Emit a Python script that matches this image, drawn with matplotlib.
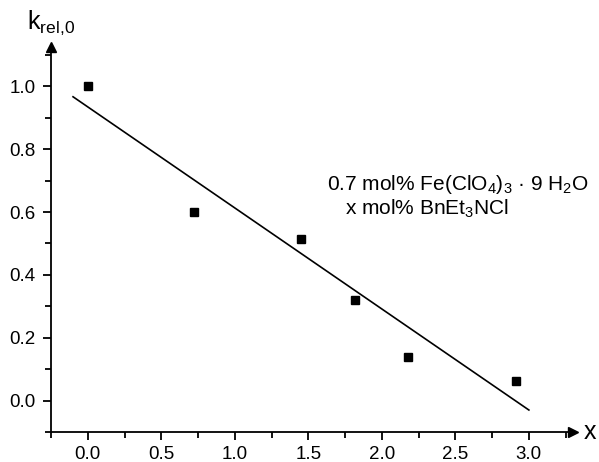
import matplotlib
matplotlib.use("Agg")
import matplotlib.pyplot as plt
from matplotlib.ticker import MultipleLocator

plt.rcParams['font.family'] = ['Liberation Sans', 'DejaVu Sans']
plt.rcParams['mathtext.fontset'] = 'custom'
plt.rcParams['mathtext.rm'] = 'Liberation Sans'
plt.rcParams['mathtext.it'] = 'Liberation Sans:italic'

# Measured points
x_mol = [0.0, 0.72, 1.45, 1.82, 2.18, 2.91]
k_rel = [1.0, 0.60, 0.515, 0.32, 0.14, 0.063]

# Linear fit line (end points)
fit_x = [-0.1, 3.0]
fit_y = [0.967, -0.03]

fig = plt.figure(figsize=(5.99, 4.62), dpi=100)
ax = fig.add_axes([0.0851, 0.0649, 0.8715, 0.8331])

ax.plot(fit_x, fit_y, color='black', lw=1.2)
ax.plot(x_mol, k_rel, 's', color='black', ms=5.5)

ax.set_xlim(-0.25, 3.30)
ax.set_ylim(-0.1, 1.125)

for s in ['top', 'right']:
    ax.spines[s].set_visible(False)
for s in ['left', 'bottom']:
    ax.spines[s].set_linewidth(1.3)

# arrow heads at the axis ends
ax.plot(1, 0, '>', color='black', ms=7, transform=ax.transAxes, clip_on=False)
ax.plot(0, 1, '^', color='black', ms=7, transform=ax.transAxes, clip_on=False)

ax.xaxis.set_minor_locator(MultipleLocator(0.25))
ax.yaxis.set_minor_locator(MultipleLocator(0.1))
ax.set_xticks([0, 0.5, 1.0, 1.5, 2.0, 2.5, 3.0])
ax.set_yticks([0, 0.2, 0.4, 0.6, 0.8, 1.0])
ax.set_xticklabels(['0.0', '0.5', '1.0', '1.5', '2.0', '2.5', '3.0'])
ax.set_yticklabels(['0.0', '0.2', '0.4', '0.6', '0.8', '1.0'])
ax.tick_params(which='major', direction='out', length=6, width=1.3, labelsize=13.5)
ax.tick_params(axis='y', which='major', pad=5)
ax.tick_params(axis='x', which='major', pad=4)
ax.tick_params(which='minor', direction='out', length=4, width=1.3)

fig.text(27 / 599, 1 - 23 / 462, r'$\mathregular{k_{rel{,}0}}$', fontsize=18,
         ha='left', va='center')
fig.text(590 / 599, 1 - 432 / 462, 'x', fontsize=18, ha='center', va='center')

ax.text(327 / 599, 1 - 190 / 462, r'0.7 mol% Fe(ClO$\mathregular{_4}$)$\mathregular{_3}$ · 9 H$\mathregular{_2}$O',
        fontsize=15, ha='left', va='baseline', transform=fig.transFigure)
ax.text(345 / 599, 1 - 215 / 462, r'x mol% BnEt$\mathregular{_3}$NCl',
        fontsize=15, ha='left', va='baseline', transform=fig.transFigure)

fig.savefig('out.png', dpi=100)
